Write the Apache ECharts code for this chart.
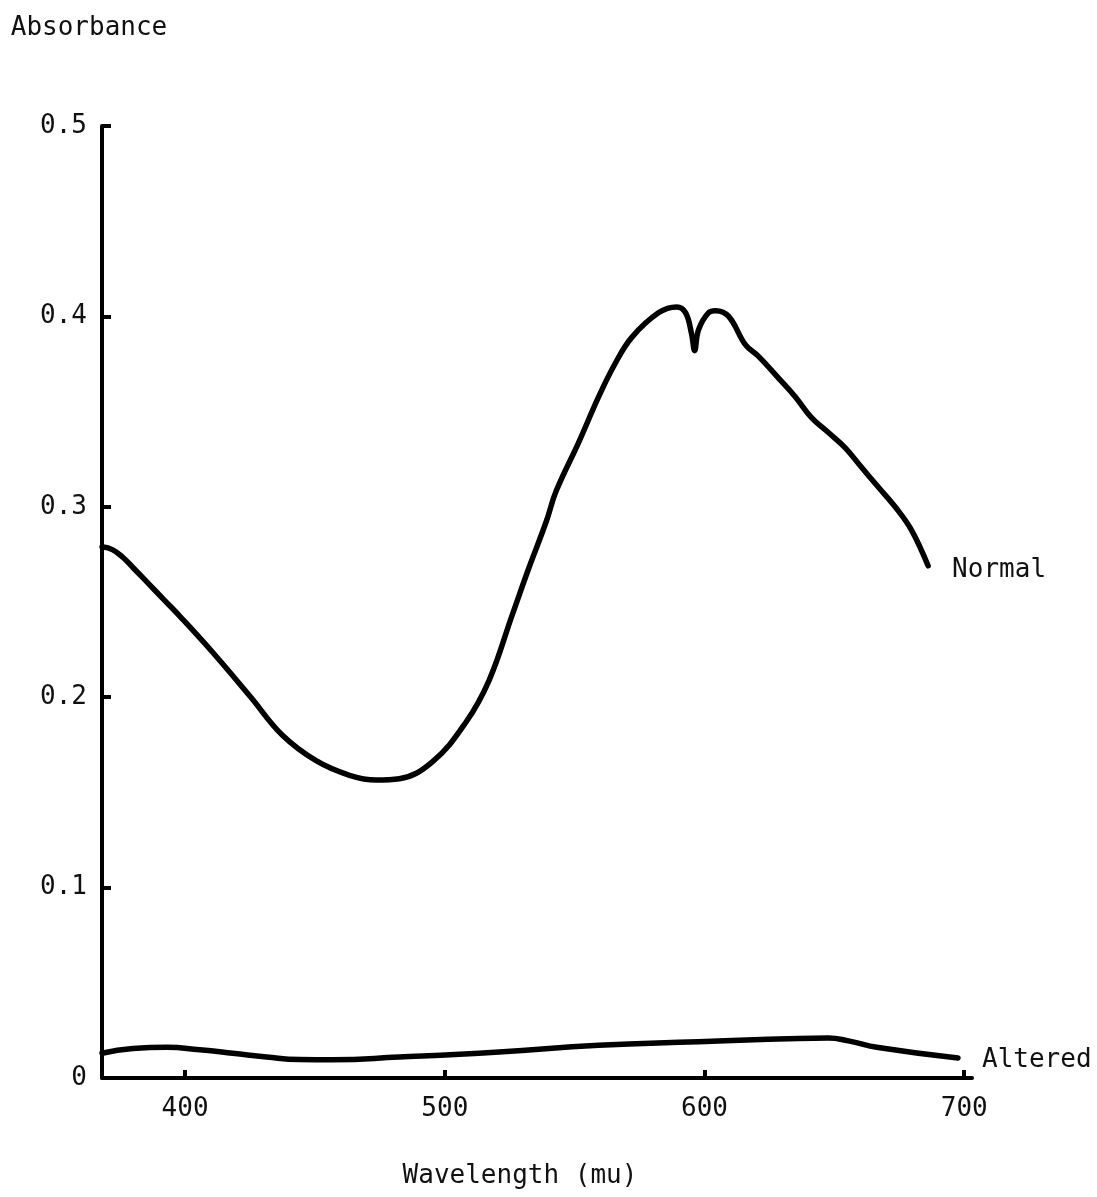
<!DOCTYPE html>
<html>
<head>
<meta charset="utf-8">
<script src="https://cdn.jsdelivr.net/npm/echarts@6/dist/echarts.min.js"></script>
<style>
html,body{margin:0;padding:0;background:#fff;}
#chart{width:1097px;height:1197px;}
</style>
</head>
<body>
<div id="chart"></div>
<script>
// Wavelength (mu) and absorbance readings
const normalWavelength = [368.0, 372.0, 376.0, 380.0, 386.0, 392.0, 398.0, 410.0, 425.0, 437.5, 450.6, 463.3, 473.6, 482.5, 495.2, 508.2, 517.1, 525.9, 532.4, 539.0, 542.8, 551.6, 559.3, 565.5, 572.0, 582.4, 589.3, 592.7, 595.0, 596.2, 597.7, 601.6, 604.3, 609.3, 615.8, 620.8, 628.5, 635.0, 641.1, 647.7, 654.2, 660.3, 666.9, 673.4, 679.6, 686.1];
const normalAbsorbance = [0.279, 0.2775, 0.2735, 0.268, 0.2595, 0.251, 0.2425, 0.2245, 0.2005, 0.180, 0.1665, 0.159, 0.1565, 0.1572, 0.166, 0.187, 0.209, 0.243, 0.268, 0.292, 0.308, 0.334, 0.358, 0.375, 0.389, 0.402, 0.405, 0.402, 0.391, 0.382, 0.393, 0.402, 0.403, 0.400, 0.385, 0.379, 0.3676, 0.3577, 0.347, 0.339, 0.331, 0.321, 0.3104, 0.300, 0.288, 0.269];

const alteredWavelength = [368.0, 379.9, 393.0, 405.6, 418.3, 431.4, 444.1, 456.7, 482.5, 520.9, 559.3, 597.7, 636.2, 647.7, 655.4, 666.9, 697.6];
const alteredAbsorbance = [0.013, 0.0155, 0.0162, 0.0148, 0.013, 0.011, 0.0097, 0.0096, 0.011, 0.0137, 0.0172, 0.019, 0.0208, 0.021, 0.0195, 0.016, 0.0105];

const xTickValues = [400, 500, 600, 700];
const seriesNames = ['Normal', 'Altered'];
const xAxisTitle = 'Wavelength (mu)';
const yAxisTitle = 'Absorbance';

const FONT = 'DejaVu Sans Mono';
const FS = 26;
const pair = (xs, ys) => xs.map((x, i) => [x, ys[i]]);

const chart = echarts.init(document.getElementById('chart'), null, {renderer: 'canvas'});
chart.setOption({
  animation: false,
  backgroundColor: '#fff',
  grid: {left: 102, right: 125, top: 126, bottom: 119},
  xAxis: {
    type: 'value', min: 368, max: 703,
    name: xAxisTitle, nameLocation: 'middle', nameGap: 98,
    nameTextStyle: {fontFamily: FONT, fontSize: FS, color: '#111', verticalAlign: 'middle', padding: [0, 34, 0, 0]},
    axisLine: {show: true, lineStyle: {color: '#000', width: 4}},
    axisTick: {show: true, inside: true, length: 8, lineStyle: {color: '#000', width: 4}, customValues: xTickValues},
    axisLabel: {fontFamily: FONT, fontSize: FS, color: '#111', margin: 18, customValues: xTickValues},
    splitLine: {show: false}
  },
  yAxis: {
    type: 'value', min: 0, max: 0.5, interval: 0.1,
    name: yAxisTitle, nameLocation: 'end', nameGap: 98,
    nameTextStyle: {fontFamily: FONT, fontSize: FS, color: '#111', align: 'center', verticalAlign: 'middle', padding: [0, 26, 0, 0]},
    axisLine: {show: true, lineStyle: {color: '#000', width: 4}},
    axisTick: {show: true, inside: true, length: 9, lineStyle: {color: '#000', width: 4}},
    axisLabel: {fontFamily: FONT, fontSize: FS, color: '#111', margin: 15,
      formatter: v => v === 0 ? '0' : v.toFixed(1)},
    splitLine: {show: false}
  },
  series: [
    {
      name: seriesNames[0], type: 'line', smooth: 0.4, symbol: 'none',
      data: pair(normalWavelength, normalAbsorbance),
      lineStyle: {color: '#000', width: 5.5, cap: 'round', join: 'round'},
      endLabel: {show: true, formatter: '{a}', fontFamily: FONT, fontSize: FS, color: '#111', distance: 24, offset: [0, 4]}
    },
    {
      name: seriesNames[1], type: 'line', smooth: 0.5, symbol: 'none',
      data: pair(alteredWavelength, alteredAbsorbance),
      lineStyle: {color: '#000', width: 5.5, cap: 'round', join: 'round'},
      endLabel: {show: true, formatter: '{a}', fontFamily: FONT, fontSize: FS, color: '#111', distance: 24, offset: [0, 2]}
    }
  ]
});
</script>
</body>
</html>
